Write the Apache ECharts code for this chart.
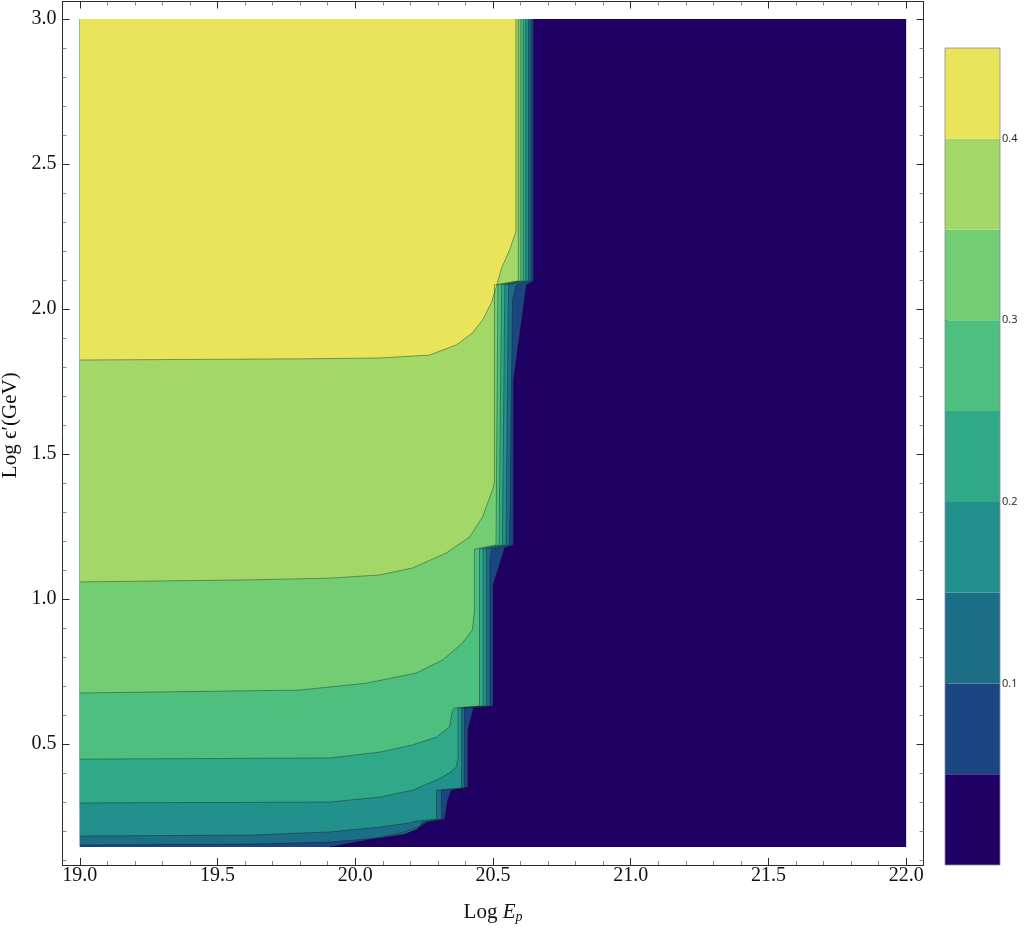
<!DOCTYPE html>
<html><head><meta charset="utf-8">
<script src="https://cdn.jsdelivr.net/npm/echarts@6/dist/echarts.min.js"></script>
<style>html,body{margin:0;padding:0;background:#fff}#c{width:1026px;height:929px}</style>
</head><body><div id="c"></div>
<script>
// ---- axes / ticks ----
const X_RANGE = [18.937, 22.063];
const Y_RANGE = [0.083, 3.060];
const X_MAJOR = [19.0, 19.5, 20.0, 20.5, 21.0, 21.5, 22.0];
const X_MINOR = [19.1,19.2,19.3,19.4,19.6,19.7,19.8,19.9,20.1,20.2,20.3,20.4,20.6,20.7,20.8,20.9,21.1,21.2,21.3,21.4,21.6,21.7,21.8,21.9];
const Y_MAJOR = [0.5, 1.0, 1.5, 2.0, 2.5, 3.0];
const Y_MINOR = [0.1,0.2,0.3,0.4,0.6,0.7,0.8,0.9,1.1,1.2,1.3,1.4,1.6,1.7,1.8,1.9,2.1,2.2,2.3,2.4,2.6,2.7,2.8,2.9];
// data domain
const XLEFT = 19.0, XRIGHT = 22.0, YMIN = 0.145, YTOP = 3.0;

// ---- contour levels and colours ----
const LEVELS = [0, 0.05, 0.10, 0.15, 0.20, 0.25, 0.30, 0.35, 0.40, 0.45];
const BAND_COLORS = ['#1f0063','#1b4682','#1c6e87','#22908b','#30a988','#4ebf7e','#73ce73','#a3d869','#e9e45a'];
const CB_TICKS = [0.1, 0.2, 0.3, 0.4];

// contour lines (x = Log Ep, y = Log eps')
const c005 = [[19.907,0.145],[20.041,0.169],[20.161,0.193],[20.233,0.214],[20.262,0.231],[20.324,0.241],[20.335,0.307],[20.349,0.341],[20.409,0.352],[20.409,0.548],[20.429,0.624],[20.500,0.631],[20.500,1.048],[20.542,1.176],[20.574,1.186],[20.574,1.755],[20.621,2.083],[20.647,2.097],[20.647,3.000]];
const c010 = [[19.000,0.152],[19.617,0.155],[19.907,0.162],[20.088,0.176],[20.179,0.190],[20.226,0.207],[20.244,0.231],[20.313,0.241],[20.313,0.341],[20.396,0.348],[20.396,0.624],[20.489,0.631],[20.489,1.134],[20.494,1.172],[20.560,1.186],[20.571,2.031],[20.585,2.083],[20.638,2.097],[20.638,3.000]];
const c015 = [[19.000,0.183],[19.617,0.186],[19.907,0.197],[20.088,0.214],[20.197,0.228],[20.219,0.234],[20.295,0.241],[20.295,0.341],[20.386,0.348],[20.386,0.624],[20.476,0.631],[20.476,1.172],[20.547,1.186],[20.556,2.083],[20.629,2.097],[20.629,3.000]];
const c020 = [[19.000,0.297],[19.907,0.300],[20.088,0.317],[20.208,0.341],[20.295,0.376],[20.342,0.400],[20.367,0.421],[20.373,0.450],[20.373,0.624],[20.464,0.631],[20.464,1.172],[20.534,1.186],[20.543,2.083],[20.619,2.097],[20.619,3.000]];
const c025 = [[19.000,0.448],[19.907,0.452],[20.088,0.472],[20.208,0.497],[20.295,0.524],[20.342,0.559],[20.353,0.617],[20.360,0.624],[20.451,0.631],[20.451,1.172],[20.522,1.186],[20.531,2.083],[20.610,2.097],[20.610,3.000]];
const c030 = [[19.000,0.676],[19.798,0.686],[20.041,0.710],[20.222,0.745],[20.317,0.790],[20.389,0.848],[20.425,0.893],[20.433,0.962],[20.433,1.172],[20.511,1.186],[20.518,2.083],[20.601,2.097],[20.601,3.000]];
const c035 = [[19.000,1.059],[19.617,1.066],[19.907,1.072],[20.088,1.083],[20.208,1.107],[20.331,1.159],[20.415,1.214],[20.462,1.283],[20.498,1.376],[20.505,1.403],[20.505,2.083],[20.592,2.097],[20.592,3.000]];
const c040 = [[19.000,1.824],[19.798,1.828],[20.088,1.831],[20.269,1.841],[20.367,1.876],[20.425,1.917],[20.462,1.962],[20.494,2.021],[20.516,2.090],[20.531,2.141],[20.560,2.203],[20.583,2.266],[20.583,3.000]];
const CONTOURS = [c005, c010, c015, c020, c025, c030, c035, c040];

const SERIF = "'Liberation Serif','Times New Roman',serif";
const FRAME = '#2a2a2a';

function xAx(pos, vals, len, showLabel, showLine, color) {
  return {
    type: 'value', gridIndex: 0, position: pos, min: X_RANGE[0], max: X_RANGE[1],
    axisLine: {show: showLine, lineStyle: {color: FRAME, width: 1}},
    axisTick: {show: true, inside: true, length: len, customValues: vals, lineStyle: {color: color, width: 1}},
    axisLabel: {show: showLabel, customValues: vals, margin: 1, formatter: v => v.toFixed(1),
      fontFamily: SERIF, fontSize: 20, color: '#111'},
    splitLine: {show: false}
  };
}
function yAx(pos, vals, len, showLabel, showLine, color) {
  return {
    type: 'value', gridIndex: 0, position: pos, min: Y_RANGE[0], max: Y_RANGE[1],
    axisLine: {show: showLine, lineStyle: {color: FRAME, width: 1}},
    axisTick: {show: true, inside: true, length: len, customValues: vals, lineStyle: {color: color, width: 1}},
    axisLabel: {show: showLabel, customValues: vals, margin: 6, formatter: v => v.toFixed(1),
      fontFamily: SERIF, fontSize: 20, color: '#111'},
    splitLine: {show: false}
  };
}

const xAxes = [
  Object.assign(xAx('bottom', X_MAJOR, 7, true, true, FRAME), {
    name: '{a|Log }{b|E}{c|p}', nameLocation: 'middle', nameGap: 35,
    nameTextStyle: {rich: {
      a: {fontFamily: SERIF, fontSize: 21, color: '#111', lineHeight: 24},
      b: {fontFamily: SERIF, fontSize: 21, fontStyle: 'italic', color: '#111', lineHeight: 24},
      c: {fontFamily: SERIF, fontSize: 14, fontStyle: 'italic', color: '#111', verticalAlign: 'bottom', lineHeight: 14}
    }}
  }),
  xAx('bottom', X_MINOR, 4, false, false, '#888'),
  xAx('top', X_MAJOR, 7, false, true, FRAME),
  xAx('top', X_MINOR, 4, false, false, '#888'),
  {type: 'value', gridIndex: 1, min: 0, max: 1, show: false}
];
const yAxes = [
  Object.assign(yAx('left', Y_MAJOR, 7, true, true, FRAME), {
    name: 'Log ϵ′(GeV)', nameLocation: 'middle', nameGap: 41, nameRotate: 90,
    nameTextStyle: {fontFamily: SERIF, fontSize: 21, color: '#111', padding: [0, 0, 0, 16]}
  }),
  yAx('left', Y_MINOR, 4, false, false, '#888'),
  yAx('right', Y_MAJOR, 7, false, true, FRAME),
  yAx('right', Y_MINOR, 4, false, false, '#888'),
  {type: 'value', gridIndex: 1, position: 'right', min: 0, max: 0.45,
   axisLine: {show: false},
   axisTick: {show: true, inside: false, length: 3, customValues: CB_TICKS, lineStyle: {color: '#444'}},
   axisLabel: {show: true, customValues: CB_TICKS, margin: 2, formatter: v => v.toFixed(1),
     fontFamily: "'Open Sans','Noto Sans',sans-serif", fontSize: 11, color: '#222'},
   splitLine: {show: false}}
];

const contourData = CONTOURS.map((c, i) => [c[0][0], c[0][1], i]);
function closedPoly(c) {
  const closing = c[0][0] === XLEFT ? [[XLEFT, YTOP]] : [[XLEFT, YTOP], [XLEFT, YMIN]];
  return c.concat(closing);
}

const option = {
  animation: false,
  backgroundColor: '#fff',
  grid: [
    {left: 62.5, top: 1.5, width: 861, height: 863.5, outerBoundsMode: 'none', containLabel: false},
    {left: 945, top: 48, width: 55, height: 817, outerBoundsMode: 'none', containLabel: false}
  ],
  xAxis: xAxes,
  yAxis: yAxes,
  series: [
    { // lowest band: whole data domain
      type: 'custom', xAxisIndex: 0, yAxisIndex: 0, z: 1,
      data: [[XLEFT, YMIN, XRIGHT, YTOP]],
      renderItem: (params, api) => {
        const a = api.coord([api.value(0), api.value(1)]);
        const b = api.coord([api.value(2), api.value(3)]);
        return {type: 'rect', shape: {x: a[0], y: b[1], width: b[0] - a[0], height: a[1] - b[1]},
          style: {fill: BAND_COLORS[0]}};
      }
    },
    { // superlevel regions, filled lowest first
      type: 'custom', xAxisIndex: 0, yAxisIndex: 0, z: 2,
      data: contourData,
      renderItem: (params, api) => {
        const i = api.value(2);
        const pts = closedPoly(CONTOURS[i]).map(p => api.coord(p));
        return {type: 'polygon', z2: i, shape: {points: pts}, style: {fill: BAND_COLORS[i + 1], stroke: null}};
      }
    },
    { // contour lines
      type: 'custom', xAxisIndex: 0, yAxisIndex: 0, z: 3,
      data: contourData,
      renderItem: (params, api) => {
        const i = api.value(2);
        const pts = CONTOURS[i].map(p => api.coord(p));
        return {type: 'polyline', shape: {points: pts},
          style: {fill: null, stroke: 'rgba(20,30,20,0.5)', lineWidth: 0.8}};
      }
    },
    { // colour bar
      type: 'custom', xAxisIndex: 4, yAxisIndex: 4, z: 2,
      data: BAND_COLORS.map((col, i) => [0, LEVELS[i], 1, LEVELS[i + 1], i]),
      renderItem: (params, api) => {
        const a = api.coord([api.value(0), api.value(1)]);
        const b = api.coord([api.value(2), api.value(3)]);
        return {type: 'rect', shape: {x: a[0], y: b[1], width: b[0] - a[0], height: a[1] - b[1]},
          style: {fill: BAND_COLORS[api.value(4)]}};
      }
    },
    { // colour bar border
      type: 'custom', xAxisIndex: 4, yAxisIndex: 4, z: 3,
      data: [[0, LEVELS[0], 1, LEVELS[LEVELS.length - 1]]],
      renderItem: (params, api) => {
        const a = api.coord([api.value(0), api.value(1)]);
        const b = api.coord([api.value(2), api.value(3)]);
        return {type: 'rect', shape: {x: a[0], y: b[1], width: b[0] - a[0], height: a[1] - b[1]},
          style: {fill: null, stroke: '#8a8a9a', lineWidth: 0.8}};
      }
    }
  ]
};
const chart = echarts.init(document.getElementById('c'), null, {renderer: 'canvas'});
chart.setOption(option);
</script></body></html>
